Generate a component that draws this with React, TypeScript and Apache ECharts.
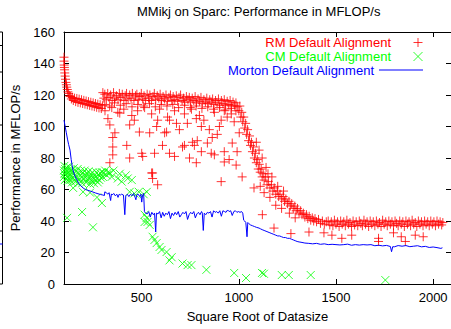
import React, { useEffect, useRef } from 'react';
import * as echarts from 'echarts';

const titleText = 'MMikj on Sparc: Performance in MFLOP/s';
const xName = 'Square Root of Datasize';
const yName = 'Performance in MFLOP/s';
const xTicks = [500, 1000, 1500, 2000];
const seriesNames = ['RM Default Alignment', 'CM Default Alignment', 'Morton Default Alignment'];

// RM: steep start, upper plateau, drop, tail
const rmCurve: [number, number][] = [
  [100, 144], [100, 141.5], [101, 139], [102, 137.5], [103, 136], [104, 134], [106, 132], [108, 130],
  [110, 128], [112, 126.5], [114, 125], [117, 123.5], [120, 122], [124, 121], [128, 119.5], [133, 119],
  [138, 117.5], [143, 118.5], [148, 116.5], [154, 118], [160, 115.8], [166, 117.8], [172, 115.3],
  [178, 117.4], [184, 115], [190, 117], [196, 114.6], [202, 116.6], [208, 114.2], [214, 116.2],
  [220, 113.8], [226, 115.8], [232, 113.4], [238, 115.4], [244, 113], [250, 115], [256, 112.6],
  [262, 114.6], [268, 112.2], [274, 114.2], [280, 111.8], [286, 113.8], [292, 111.4], [298, 113.2],
];

const rmBand: [number, number][] = [
  [300, 121.5], [305, 118], [310, 120.5], [318, 117], [325, 121], [332, 118.5], [340, 120], [348, 116.5],
  [355, 121.5], [362, 118], [370, 119.5], [378, 117], [385, 121], [392, 118.5], [400, 120.5], [408, 116.5],
  [415, 119.5], [422, 121], [430, 117.5], [438, 120], [445, 118], [452, 121], [460, 116.5], [468, 119.5],
  [475, 120.5], [482, 117], [490, 119], [498, 121], [505, 117.5], [512, 119.5], [520, 116.5], [528, 120.5],
  [535, 118], [542, 120], [550, 116.5], [558, 119], [565, 121], [572, 117], [580, 119.5], [588, 118],
  [595, 120.5], [602, 116.5], [610, 119], [618, 117.5], [625, 120], [632, 116], [640, 118.5], [648, 120],
  [655, 116.5], [662, 119], [670, 117], [678, 119.5], [685, 116], [692, 118.5], [700, 120], [708, 116.5],
  [715, 118], [722, 115.5], [730, 119], [738, 117], [745, 118.5], [752, 115.5], [760, 118], [768, 116.5],
  [775, 119], [782, 115], [790, 117.5], [798, 116], [805, 118.5], [812, 114.5], [820, 117], [828, 115.5],
  [835, 118], [842, 114.5], [850, 117], [858, 115.5], [865, 117.5], [872, 114], [880, 116.5], [888, 115],
  [895, 117.5], [902, 113.5], [910, 116.5], [918, 114.5], [925, 117], [932, 113.5], [940, 116], [948, 114],
  [955, 116.5], [962, 113], [970, 115.5], [978, 113.5], [985, 115], [992, 112.5],
];

const rmBandLow: [number, number][] = [
  [310, 114], [335, 113], [360, 115], [390, 113.5], [420, 114.5], [450, 112.5], [480, 114], [510, 113],
  [540, 114.5], [570, 112.5], [600, 114], [630, 113], [660, 114], [690, 112], [720, 113.5], [750, 112],
  [780, 113], [810, 111.5], [840, 112.5], [870, 111], [900, 112], [930, 110.5], [960, 111.5], [985, 110],
];

const rmScatter: [number, number][] = [
  [326, 105], [336, 101], [362, 96], [351, 93], [351, 87], [423, 88], [387, 108.5], [438, 101], [462, 104],
  [488, 96.5], [541, 96], [577, 100], [628, 96.5], [607, 88], [710, 87], [679, 102], [761, 90], [781, 105],
  [643, 104], [566, 83], [500, 83], [351, 82], [556, 70.5], [618, 96], [643, 83], [720, 88], [771, 88],
  [746, 80], [781, 77], [838, 89.5], [863, 93], [909, 65], [925, 84], [925, 77.5], [986, 75.5], [1017, 68],
  [1002, 96], [336, 77], [438, 80], [551, 70.5], [556, 67], [582, 63], [1078, 61], [505, 81], [669, 81],
  [807, 100], [848, 98], [786, 91], [889, 95], [909, 104], [940, 106], [976, 103], [966, 89.5], [991, 84],
  [858, 83], [807, 84], [950, 79], [874, 82], [311, 110], [346, 112], [377, 109], [408, 111], [449, 107],
  [479, 110], [515, 112], [551, 108], [592, 111], [633, 106], [669, 110], [720, 108], [756, 111], [797, 107],
  [874, 109], [925, 110], [961, 108], [582, 104], [694, 98], [735, 102], [900, 100], [820, 104],
];

const rmDrop: [number, number][] = [
  [1000, 110], [1005, 113], [1010, 106], [1015, 109], [1020, 103], [1025, 106], [1030, 99], [1035, 102],
  [1040, 95], [1045, 98], [1050, 91], [1055, 94], [1060, 88], [1065, 90], [1070, 84], [1075, 87],
  [1080, 80], [1085, 83], [1090, 77], [1095, 79], [1100, 73], [1105, 76], [1110, 71], [1115, 73],
  [1120, 68], [1125, 70], [1130, 66], [1138, 68], [1145, 63], [1152, 65], [1160, 61], [1168, 63],
  [1175, 59], [1182, 61], [1190, 57], [1198, 59], [1205, 55.5], [1212, 57], [1220, 54], [1228, 55.5],
  [1235, 52.5], [1242, 54], [1250, 51], [1258, 52.5], [1265, 49.5], [1272, 51], [1280, 48], [1288, 49.5],
  [1295, 46.5], [1302, 48], [1310, 45], [1318, 46.5], [1325, 44], [1332, 45], [1340, 42.5], [1348, 44],
  [1355, 41.5], [1362, 43], [1370, 40.5], [1378, 42], [1385, 40], [1392, 41.5], [1400, 39.5], [1410, 41],
  [1420, 38.5], [1430, 40], [1440, 38], [1450, 39.5],
  [1104, 85], [1090, 90], [1120, 80], [1140, 74], [1150, 70], [1170, 68], [1200, 62], [1230, 59],
  [1110, 62], [1130, 58], [1160, 55], [1190, 50], [1220, 48], [1260, 45], [1290, 42],
];

const rmTail: [number, number][] = [
  [1460, 40], [1468, 37.5], [1476, 39.5], [1484, 37], [1492, 40.5], [1500, 38], [1508, 39.5], [1516, 36.5],
  [1524, 40], [1532, 38], [1540, 39.5], [1548, 37], [1556, 40.5], [1564, 38], [1572, 39], [1580, 36.5],
  [1588, 40], [1596, 37.5], [1604, 39.5], [1612, 37], [1620, 40], [1628, 38.5], [1636, 37], [1644, 40.5],
  [1652, 38], [1660, 39.5], [1668, 36.5], [1676, 40], [1684, 38], [1692, 39.5], [1700, 37], [1708, 40],
  [1716, 38], [1724, 39], [1732, 36.5], [1740, 40.5], [1748, 38], [1756, 39.5], [1764, 37], [1772, 40],
  [1780, 38], [1788, 39.5], [1796, 37], [1804, 40], [1812, 38.5], [1820, 37], [1828, 40], [1836, 38],
  [1844, 39.5], [1852, 36.5], [1860, 40], [1868, 38], [1876, 39.5], [1884, 37], [1892, 40.5], [1900, 38],
  [1908, 39], [1916, 36.5], [1924, 40], [1932, 38], [1940, 39.5], [1948, 37], [1956, 40], [1964, 38],
  [1972, 39.5], [1980, 37], [1988, 40], [1996, 38], [2004, 39.5], [2012, 37], [2020, 40], [2028, 38],
  [2036, 39.5], [2044, 37.5], [2050, 39],
];

const rmLow: [number, number][] = [
  [1361, 33], [1438, 32.5], [1479, 31], [1530, 29], [1581, 31], [1719, 29], [1796, 32.5], [1836, 30],
  [1908, 31], [1949, 30], [1719, 27], [1857, 27], [1121, 44], [1181, 35.5], [1268, 32],
];

// CM
const cmDense: [number, number][] = [
  [100, 72], [100, 68], [102, 75], [103, 70], [104, 66], [106, 73], [108, 69], [110, 71.5], [112, 67],
  [114, 74], [116, 70], [118, 65.5], [120, 72], [123, 68], [126, 74.5], [129, 70], [132, 66], [135, 72.5],
  [138, 68.5], [141, 64.5], [144, 71], [147, 67], [150, 73.5], [154, 69], [158, 65], [162, 71.5],
  [166, 67.5], [170, 73], [174, 64], [178, 70], [182, 66.5], [186, 72], [190, 68], [194, 64], [198, 70.5],
  [202, 66.5], [206, 72], [210, 68], [214, 64.5], [218, 70], [222, 66], [226, 71.5], [230, 67.5],
  [234, 63.5], [238, 69.5], [242, 65.5], [246, 71], [250, 67], [254, 64], [258, 69], [262, 66], [266, 71],
  [270, 67], [274, 64.5], [278, 69.5], [282, 66], [286, 70.5], [290, 67.5], [295, 71], [300, 68],
  [305, 70.5], [312, 72], [320, 69], [328, 71], [336, 70.5], [345, 68], [355, 72], [377, 67], [387, 70],
  [397, 65], [428, 67], [449, 66], [418, 69],
];

const cmScatter: [number, number][] = [
  [147, 61], [198, 58.5], [234, 58], [270, 55], [295, 51.4], [116, 42], [193, 45.7], [249, 36],
  [438, 58.5], [462, 57.5], [485, 58.5], [510, 57], [526, 58.5],
  [515, 44], [515, 39.4], [526, 42], [530, 39.4], [541, 37.5], [556, 30], [566, 28], [577, 26], [592, 23.5],
  [602, 21.6], [628, 20.3], [654, 17], [643, 15], [710, 13], [736, 12], [756, 12], [833, 9], [976, 7],
  [1037, 3.8], [1119, 7], [1129, 6.5], [1221, 5.7], [1257, 5.7], [1370, 5.7], [1754, 2.5],
];

// Morton
const mortonLine: [number, number][] = [
  [100, 104], [106, 100], [112, 96], [118, 92], [124, 88.5], [131, 85], [137, 79], [142, 75], [147, 72],
  [152, 70], [158, 68], [167, 66], [175, 64], [185, 62.5], [198, 61], [210, 60], [222, 59.5], [235, 59],
  [249, 58.4], [262, 57.8], [275, 57.3], [288, 56.8], [300, 56.5], [308, 56.2], [310, 58.5], [318, 58],
  [325, 57], [332, 58], [340, 53], [344, 57.2], [348, 56.5], [356, 57.5], [364, 56], [372, 57], [378, 55],
  [384, 57], [390, 56.5], [396, 57], [406, 56.5], [413, 44], [418, 56], [426, 57], [434, 55.5], [442, 57],
  [450, 56], [458, 57.5], [466, 55], [470, 53.5], [474, 56.5], [482, 57], [490, 55.5], [496, 57],
  [500, 52], [504, 56], [510, 57.5], [514, 46], [520, 45], [528, 44.5], [536, 46], [544, 42.5], [552, 45.5],
  [560, 44], [566, 45], [572, 33], [576, 45], [584, 44.5], [592, 46], [600, 42], [608, 45.5], [616, 43],
  [624, 45], [632, 44], [640, 46], [648, 41.5], [656, 45], [664, 43.5], [672, 45.5], [680, 44], [688, 46],
  [696, 42.5], [704, 44], [712, 45.5], [720, 44.5], [728, 46], [736, 41], [744, 44], [752, 45.5],
  [760, 44.5], [768, 46], [776, 42], [784, 44.5], [792, 45.5], [800, 44], [808, 46], [812, 45],
  [817, 34], [822, 45], [830, 44], [838, 45.5], [846, 45], [854, 46], [862, 42.5], [870, 46.5],
  [878, 45.5], [886, 46], [894, 45], [902, 46.5], [910, 43], [918, 46.5], [926, 46], [934, 45.5],
  [942, 47], [950, 46], [958, 46.5], [966, 43.5], [974, 46], [982, 46.5], [990, 45.5], [998, 46],
  [1006, 45.5], [1014, 46], [1020, 45], [1025, 40.5], [1030, 40], [1036, 39], [1042, 30], [1046, 39],
  [1050, 38.5], [1060, 37.5], [1070, 37], [1080, 36.5], [1090, 36], [1104, 35.5], [1112, 35],
  [1120, 34.5], [1130, 34], [1140, 33.5], [1150, 33], [1160, 32.5], [1170, 32], [1180, 31.5],
  [1190, 31], [1200, 30.5], [1210, 30.5], [1220, 30], [1230, 29.5], [1240, 29.5], [1250, 29],
  [1260, 29], [1270, 28.5], [1280, 28], [1290, 27.5], [1300, 27], [1310, 26.7], [1320, 26.5],
  [1340, 26], [1360, 25.8], [1380, 25.5], [1400, 25.8], [1420, 25.2], [1440, 25.5], [1460, 25],
  [1480, 25.2], [1500, 25], [1520, 24.8], [1540, 25], [1560, 25.3], [1580, 24.6], [1600, 25],
  [1620, 24.7], [1640, 25], [1660, 24.8], [1680, 25], [1700, 24.3], [1720, 24.6], [1740, 24.2],
  [1760, 24.5], [1780, 23.8], [1786, 20.5], [1792, 23.7], [1800, 23.6], [1820, 24.4], [1840, 24],
  [1860, 24.4], [1880, 23.7], [1900, 24], [1920, 24.3], [1940, 23.6], [1960, 23.9], [1980, 23.2],
  [2000, 23.5], [2020, 23.1], [2040, 22.6], [2048, 23],
];

const FONT = "'Liberation Sans', Arial, Helvetica, sans-serif";
const PLUS = 'path://M5,0L5,10M0,5L10,5';
const CROSS = 'path://M0,0L10,10M10,0L0,10';
const BAR = 'path://M0,0H44V1H0Z';

export default function App() {
  const ref = useRef<HTMLDivElement>(null);
  useEffect(() => {
    if (!ref.current) return;
    const chart = echarts.init(ref.current, null, { renderer: 'svg' });
    const axisCommon = {
      axisLine: { show: true, onZero: false, lineStyle: { color: '#000', width: 1 } },
      splitLine: { show: false },
    };
    const leftTickYs = [32, 45.5, 72, 98.5, 125, 151.5, 178, 204.5, 231, 257.5, 284];
    const legendBase = {
      orient: 'horizontal',
      right: 28,
      padding: 0,
      itemGap: 0,
      align: 'right',
      itemWidth: 44,
      itemHeight: 9,
      selectedMode: false,
    };
    const fmt = (v: number) => String(v);
    chart.setOption({
      animation: false,
      backgroundColor: '#fff',
      title: {
        text: titleText,
        left: 137,
        top: 5,
        textStyle: { fontFamily: FONT, fontSize: 13, fontWeight: 'normal', color: '#000' },
        padding: 0,
      },
      legend: [
        { ...legendBase, top: 36, data: [{ name: seriesNames[0], icon: PLUS }], textStyle: { color: '#ff0000', fontFamily: FONT, fontSize: 13 }, itemStyle: { color: 'transparent', borderColor: '#ff0000', borderWidth: 1 } },
        { ...legendBase, top: 50, data: [{ name: seriesNames[1], icon: CROSS }], textStyle: { color: '#00ff00', fontFamily: FONT, fontSize: 13 }, itemStyle: { color: 'transparent', borderColor: '#00ff00', borderWidth: 1 } },
        { ...legendBase, top: 63.5, data: [{ name: seriesNames[2], icon: BAR }], textStyle: { color: '#0000ff', fontFamily: FONT, fontSize: 13 }, itemStyle: { color: '#0000ff', borderWidth: 0 }, lineStyle: { width: 0 } },
      ],
      grid: { left: 64, top: 32, right: -2, bottom: 45, containLabel: false },
      xAxis: [
        {
          ...axisCommon,
          type: 'value',
          min: 100,
          max: 2092,
          position: 'bottom',
          name: xName,
          nameLocation: 'middle',
          nameGap: 26,
          nameTextStyle: { fontFamily: FONT, fontSize: 13, color: '#000' },
          axisTick: { show: true, inside: true, length: 5, customValues: xTicks, lineStyle: { color: '#000' } },
          axisLabel: { customValues: xTicks, formatter: fmt, margin: 7, fontFamily: FONT, fontSize: 13, color: '#000' },
        },
        {
          ...axisCommon,
          type: 'value',
          min: 100,
          max: 2092,
          position: 'top',
          axisTick: { show: true, inside: true, length: 5, customValues: xTicks, lineStyle: { color: '#000' } },
          axisLabel: { show: false },
        },
      ],
      yAxis: [
        {
          ...axisCommon,
          type: 'value',
          min: 0,
          max: 160,
          interval: 20,
          position: 'left',
          name: yName,
          nameLocation: 'middle',
          nameGap: 33,
          nameTextStyle: { fontFamily: FONT, fontSize: 13, color: '#000' },
          axisTick: { show: true, inside: true, length: 5, lineStyle: { color: '#000' } },
          axisLabel: { margin: 9, formatter: fmt, fontFamily: FONT, fontSize: 13, color: '#000' },
        },
        {
          ...axisCommon,
          type: 'value',
          min: 0,
          max: 160,
          interval: 20,
          position: 'right',
          axisTick: { show: true, inside: true, length: 5, lineStyle: { color: '#000' } },
          axisLabel: { show: false },
        },
      ],
      series: [
        {
          name: seriesNames[0],
          type: 'scatter',
          symbol: PLUS,
          symbolSize: 9,
          itemStyle: { color: 'transparent', borderColor: '#ff0000', borderWidth: 1 },
          data: [...rmCurve, ...rmBand, ...rmBandLow, ...rmScatter, ...rmDrop, ...rmTail, ...rmLow],
          emphasis: { disabled: true },
        },
        {
          name: seriesNames[1],
          type: 'scatter',
          symbol: CROSS,
          symbolSize: 8,
          itemStyle: { color: 'transparent', borderColor: '#00ff00', borderWidth: 1 },
          data: [...cmDense, ...cmScatter],
          emphasis: { disabled: true },
        },
        {
          name: seriesNames[2],
          type: 'line',
          symbol: 'none',
          lineStyle: { color: '#0000ff', width: 1 },
          itemStyle: { color: '#0000ff' },
          data: mortonLine,
          emphasis: { disabled: true },
        },
      ],
      graphic: [
        { type: 'line', shape: { x1: 2.5, y1: 32, x2: 2.5, y2: 284 }, style: { stroke: '#000', lineWidth: 1 } },
        ...leftTickYs.map((y) => ({ type: 'line', shape: { x1: -3, y1: y, x2: 2.5, y2: y }, style: { stroke: '#000', lineWidth: 1 } })),
        { type: 'line', shape: { x1: 0, y1: 244, x2: 2.5, y2: 244 }, style: { stroke: '#0000ff', lineWidth: 1 } },
      ],
    });
    return () => chart.dispose();
  }, []);
  return <div ref={ref} style={{ position: 'fixed', left: 0, top: 0, width: 451, height: 329 }} />;
}
